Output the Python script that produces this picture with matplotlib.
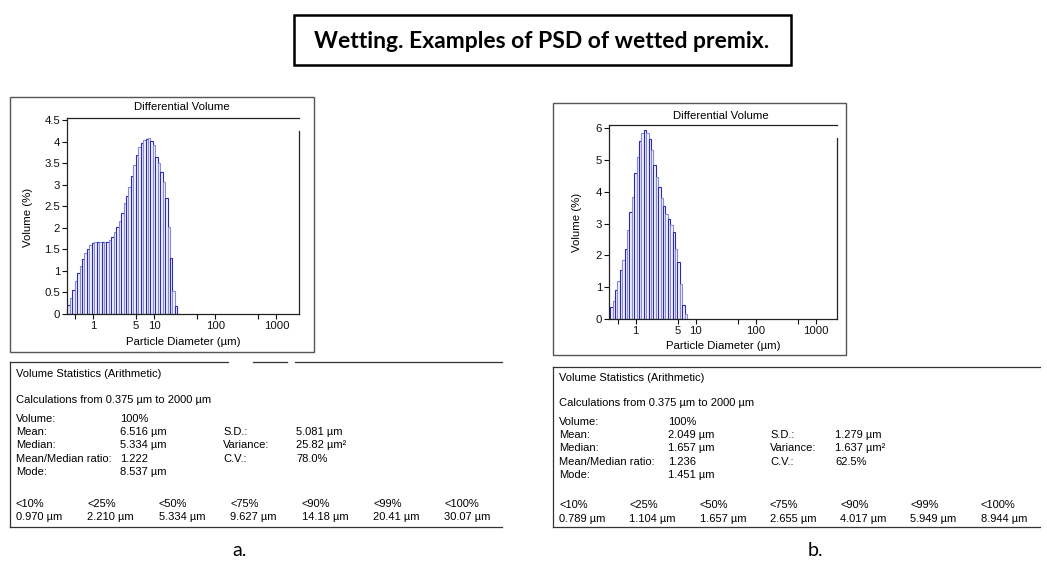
import numpy as np
import matplotlib.pyplot as plt
from matplotlib.patches import Rectangle
from matplotlib.lines import Line2D

plt.rcParams['font.family'] = 'Liberation Sans'

W, H = 1047, 568

title = "Wetting. Examples of PSD of wetted premix."

# analyser channels, 0.375 - 2000 um, log spaced
n_channels = 93
d_min, d_max = 0.375, 2000.0

# differential volume (%) per channel
vol_a = [0.22, 0.36, 0.56, 0.77, 0.96, 1.12, 1.28, 1.41, 1.52, 1.60,
         1.64, 1.66, 1.68, 1.68, 1.68, 1.68, 1.68, 1.72, 1.79, 1.91,
         2.02, 2.16, 2.35, 2.57, 2.75, 2.95, 3.20, 3.45, 3.70, 3.87,
         3.97, 4.03, 4.07, 4.08, 4.02, 3.92, 3.65, 3.50, 3.30, 3.07,
         2.69, 2.03, 1.30, 0.53, 0.18]
vol_b = [0.38, 0.58, 0.92, 1.20, 1.55, 1.86, 2.20, 2.80, 3.35, 3.85,
         4.60, 5.10, 5.60, 5.84, 5.93, 5.84, 5.65, 5.30, 4.85, 4.45,
         4.15, 3.80, 3.55, 3.30, 3.15, 2.95, 2.75, 2.20, 1.80, 1.10,
         0.45, 0.15]

x_ticks = [0.5, 1, 5, 10, 50, 100, 500, 1000]
x_ticklabels = ['', '1', '5', '10', '', '100', '', '1000']
yticks_a = [0, 0.5, 1, 1.5, 2, 2.5, 3, 3.5, 4, 4.5]
yticks_b = [0, 1, 2, 3, 4, 5, 6]

stat_names = ["Volume:", "Mean:", "Median:", "Mean/Median ratio:", "Mode:"]
stat_names2 = ["S.D.:", "Variance:", "C.V.:"]
pct_names = ["<10%", "<25%", "<50%", "<75%", "<90%", "<99%", "<100%"]

stats_a = ["100%", "6.516 µm", "5.334 µm", "1.222", "8.537 µm"]
stats2_a = ["5.081 µm", "25.82 µm²", "78.0%"]
pct_a = ["0.970 µm", "2.210 µm", "5.334 µm", "9.627 µm", "14.18 µm",
         "20.41 µm", "30.07 µm"]

stats_b = ["100%", "2.049 µm", "1.657 µm", "1.236", "1.451 µm"]
stats2_b = ["1.279 µm", "1.637 µm²", "62.5%"]
pct_b = ["0.789 µm", "1.104 µm", "1.657 µm", "2.655 µm", "4.017 µm",
         "5.949 µm", "8.944 µm"]


def fx(x):
    return x / W


def fy(y):
    return 1 - y / H


def frame(x0, y0, x1, y1, lw=1.0, color='#555555'):
    fig.add_artist(Rectangle((fx(x0), fy(y1)), fx(x1) - fx(x0), fy(y0) - fy(y1),
                             transform=fig.transFigure, fill=False,
                             edgecolor=color, linewidth=lw))


def hline(x0, x1, y, color='#333333'):
    fig.add_artist(Line2D([fx(x0), fx(x1)], [fy(y), fy(y)],
                          transform=fig.transFigure, color=color, lw=0.9))


def vline(x, y0, y1, color='#333333'):
    fig.add_artist(Line2D([fx(x), fx(x)], [fy(y0), fy(y1)],
                          transform=fig.transFigure, color=color, lw=0.9))


def psd_plot(box, heights, ylim, yticks, xlim, spine_top, labels_pos):
    x0, y0, x1, y1 = box
    ax = fig.add_axes([fx(x0), fy(y1), fx(x1) - fx(x0), fy(y0) - fy(y1)])
    edges = d_min * (d_max / d_min) ** (np.arange(n_channels + 1) / n_channels)
    n = len(heights)
    colors = ['#2a2ab4' if i % 2 == 0 else '#8a8ad8' for i in range(n)]
    ax.bar(edges[:n], heights, width=np.diff(edges[:n + 1]), align='edge',
           facecolor='#f4f4fc', edgecolor=colors, linewidth=0.8)
    ax.set_xscale('log')
    ax.set_xlim(xlim)
    ax.set_ylim(ylim)
    ax.set_xticks(x_ticks)
    ax.set_xticklabels(x_ticklabels)
    ax.xaxis.set_minor_locator(plt.NullLocator())
    ax.set_yticks(yticks)
    ax.set_yticklabels(['%g' % t for t in yticks])
    ax.tick_params(direction='out', length=3.5, width=0.8, labelsize=8.2,
                   pad=1.5, colors='#111111')
    for s in ax.spines.values():
        s.set_linewidth(0.9)
        s.set_color('#222222')
    ax.spines['right'].set_bounds(0, spine_top)
    tx, ty, ylx, yly, xlx, xly = labels_pos
    fig.text(fx(tx), fy(ty), "Differential Volume", ha='center', va='center',
             fontsize=8.2)
    fig.text(fx(ylx), fy(yly), "Volume (%)", ha='center', va='center',
             fontsize=8.2, rotation=90)
    fig.text(fx(xlx), fy(xly), "Particle Diameter (µm)", ha='center',
             va='center', fontsize=8.2)
    return ax


def stats_table(x, y_rows, col_x, stats, stats2, pct, pct_dx):
    fs = 8.0
    fig.text(fx(x), fy(y_rows[0]), "Volume Statistics (Arithmetic)",
             fontsize=fs, va='center')
    fig.text(fx(x), fy(y_rows[1]), "Calculations from 0.375 µm to 2000 µm",
             fontsize=fs, va='center')
    for i in range(5):
        yy = fy(y_rows[2] + i * 13.2)
        fig.text(fx(x), yy, stat_names[i], fontsize=fs, va='center')
        fig.text(fx(x + col_x[0]), yy, stats[i], fontsize=fs, va='center')
    for i in range(3):
        yy = fy(y_rows[2] + (i + 1) * 13.2)
        fig.text(fx(x + col_x[1]), yy, stat_names2[i], fontsize=fs, va='center')
        fig.text(fx(x + col_x[2]), yy, stats2[i], fontsize=fs, va='center')
    for i in range(7):
        fig.text(fx(x + i * pct_dx), fy(y_rows[3]), pct_names[i],
                 fontsize=fs, va='center')
        fig.text(fx(x + i * pct_dx), fy(y_rows[3] + 13.5), pct[i],
                 fontsize=fs, va='center')


fig = plt.figure(figsize=(W / 100, H / 100), dpi=100)

# title box
frame(294, 15, 791, 65, lw=1.8, color='black')
fig.text(fx(542), fy(41), title, ha='center', va='center', fontsize=16.5,
         fontweight='bold', family='Lato')

# chart a
frame(10, 97, 314, 352)
psd_plot((67, 118, 299, 314), vol_a, (0, 4.55), yticks_a, (0.37, 2350), 4.24,
         (182, 107, 28, 217, 183, 342))

# chart b
frame(553, 103, 846, 355)
psd_plot((609, 125, 837, 319), vol_b, (0, 6.1), yticks_b, (0.358, 2270), 5.7,
         (721, 116, 577, 222, 723, 346))

# statistics a
hline(10, 228, 362)
hline(253, 287, 362)
hline(295, 502, 362)
vline(10, 362, 527)
hline(10, 502, 527)
stats_table(16, (374, 400, 419, 504), (104, 207, 280), stats_a, stats2_a,
            pct_a, 71.4)

# statistics b
hline(553, 1040, 367)
vline(553, 367, 527)
hline(553, 1040, 527)
stats_table(559, (378, 403, 422, 505), (109, 211, 276), stats_b, stats2_b,
            pct_b, 70.3)

fig.text(fx(240), fy(550), "a.", ha='center', va='center', fontsize=14,
         family='Lato')
fig.text(fx(815), fy(550), "b.", ha='center', va='center', fontsize=14,
         family='Lato')

plt.savefig('out.png', dpi=100)
